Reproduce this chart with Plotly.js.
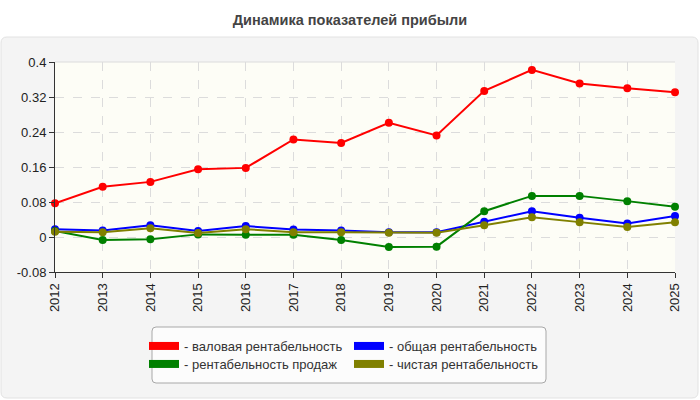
<!DOCTYPE html>
<html>
<head>
<meta charset="utf-8">
<script src="https://cdn.plot.ly/plotly-3.0.1.min.js"></script>
<style>
  html, body { margin: 0; padding: 0; background: #ffffff; }
  #chart { width: 700px; height: 400px; }
</style>
</head>
<body>
<div id="chart"></div>
<script>
// years on the x axis
var years = ['2012','2013','2014','2015','2016','2017','2018','2019','2020','2021','2022','2023','2024','2025']

// series
var grossMargin = [0.077,0.115,0.126,0.155,0.158,0.223,0.215,0.261,0.232,0.334,0.382,0.351,0.340,0.331]
var totalMargin = [0.018,0.015,0.027,0.014,0.025,0.017,0.015,0.011,0.011,0.035,0.059,0.044,0.031,0.048]
var salesMargin = [0.014,-0.007,-0.005,0.006,0.005,0.005,-0.007,-0.023,-0.022,0.059,0.094,0.094,0.082,0.069]
var netMargin = [0.012,0.011,0.020,0.009,0.018,0.011,0.011,0.010,0.010,0.027,0.045,0.034,0.023,0.034]

var seriesNames = ['- валовая рентабельность','- общая рентабельность','- рентабельность продаж','- чистая рентабельность']
var seriesColors = ['#ff0000','#0000ff','#008000','#808000']

var yTicks = [-0.08, 0, 0.08, 0.16, 0.24, 0.32, 0.4]
var yTickLabels = ['-0.08','0','0.08','0.16','0.24','0.32','0.4']

// legend goes row by row: red, blue / green, olive
var seriesValues = [grossMargin, totalMargin, salesMargin, netMargin]
var legendRow = ['legend','legend','legend2','legend2']

var traces = []
for (let i = 0; i < seriesValues.length; i++) {
    traces.push({
        x: years,
        y: seriesValues[i],
        mode: 'lines+markers',
        name: seriesNames[i],
        showlegend: false,
        cliponaxis: false,
        line: { color: seriesColors[i], width: 2 },
        marker: { color: seriesColors[i], size: 8 }
    })
}
// legend-only entries, drawn as thick colour bars
for (let i = 0; i < seriesValues.length; i++) {
    traces.push({
        x: [null],
        y: [null],
        mode: 'lines',
        name: seriesNames[i],
        legend: legendRow[i],
        line: { color: seriesColors[i], width: 8 }
    })
}

// pixel -> paper helpers, plot area is x 55..675, y 62..272
function px(v) { return (v - 55) / 620 }
function py(v) { return (272 - v) / 210 }

function roundedBox(L, T, R, B, r) {
    return 'M' + px(L + r) + ',' + py(T) +
        ' L' + px(R - r) + ',' + py(T) +
        ' Q' + px(R) + ',' + py(T) + ' ' + px(R) + ',' + py(T + r) +
        ' L' + px(R) + ',' + py(B - r) +
        ' Q' + px(R) + ',' + py(B) + ' ' + px(R - r) + ',' + py(B) +
        ' L' + px(L + r) + ',' + py(B) +
        ' Q' + px(L) + ',' + py(B) + ' ' + px(L) + ',' + py(B - r) +
        ' L' + px(L) + ',' + py(T + r) +
        ' Q' + px(L) + ',' + py(T) + ' ' + px(L + r) + ',' + py(T) + ' Z'
}

var legendFont = { family: 'Liberation Sans, Arial, sans-serif', size: 13, color: '#333' }

var layout = {
    width: 700,
    height: 400,
    margin: { l: 55, r: 25, t: 62, b: 128 },
    paper_bgcolor: '#ffffff',
    plot_bgcolor: '#fdfdf6',
    font: { family: 'Liberation Sans, Arial, sans-serif', size: 12, color: '#222' },
    title: {
        text: 'Динамика показателей прибыли',
        x: 0.5,
        xanchor: 'center',
        y: 0.95,
        yanchor: 'middle',
        font: { family: 'Liberation Sans, Arial, sans-serif', size: 14.5, color: '#444', weight: 'bold' }
    },
    xaxis: {
        type: 'category',
        range: [0, years.length - 1],
        tickangle: -90,
        showline: true,
        linecolor: '#333',
        ticks: 'outside',
        ticklen: 5,
        tickcolor: '#333',
        showgrid: true,
        gridcolor: '#dcdcdc',
        griddash: 'dash',
        tickfont: { size: 13, color: '#222' }
    },
    yaxis: {
        range: [-0.08, 0.4],
        tickvals: yTicks,
        ticktext: yTickLabels,
        showline: true,
        linecolor: '#333',
        ticks: 'outside',
        ticklen: 5,
        tickcolor: '#333',
        showgrid: true,
        gridcolor: '#dcdcdc',
        griddash: 'dash',
        zeroline: false,
        tickfont: { size: 13, color: '#222' }
    },
    shapes: [
        {   // grey panel
            type: 'path', xref: 'paper', yref: 'paper',
            path: roundedBox(1, 37, 698, 398, 6),
            fillcolor: '#f4f4f4',
            line: { color: '#e2e2e2', width: 1 },
            layer: 'below'
        },
        {   // plot background above the panel
            type: 'rect', xref: 'paper', yref: 'paper',
            x0: 0, x1: 1, y0: 0, y1: 1,
            fillcolor: '#fdfdf6',
            line: { width: 0 },
            layer: 'below'
        },
        {
            type: 'line', xref: 'paper', yref: 'paper',
            x0: 0, x1: 1, y0: 1, y1: 1,
            line: { color: '#dcdcdc', width: 1 },
            layer: 'below'
        },
        {   // legend frame
            type: 'path', xref: 'paper', yref: 'paper',
            path: roundedBox(152, 327, 546, 383, 4),
            fillcolor: '#fcfcfc',
            line: { color: '#a8a8a8', width: 1 },
            layer: 'below'
        }
    ],
    legend: {
        orientation: 'h',
        x: px(144), xanchor: 'left',
        y: py(346), yanchor: 'middle',
        bgcolor: 'rgba(0,0,0,0)',
        borderwidth: 0,
        entrywidth: 160,
        font: legendFont
    },
    legend2: {
        orientation: 'h',
        x: px(144), xanchor: 'left',
        y: py(364), yanchor: 'middle',
        bgcolor: 'rgba(0,0,0,0)',
        borderwidth: 0,
        entrywidth: 160,
        font: legendFont
    },
    showlegend: true
}

Plotly.newPlot('chart', traces, layout, { displayModeBar: false, staticPlot: true })
</script>
</body>
</html>
